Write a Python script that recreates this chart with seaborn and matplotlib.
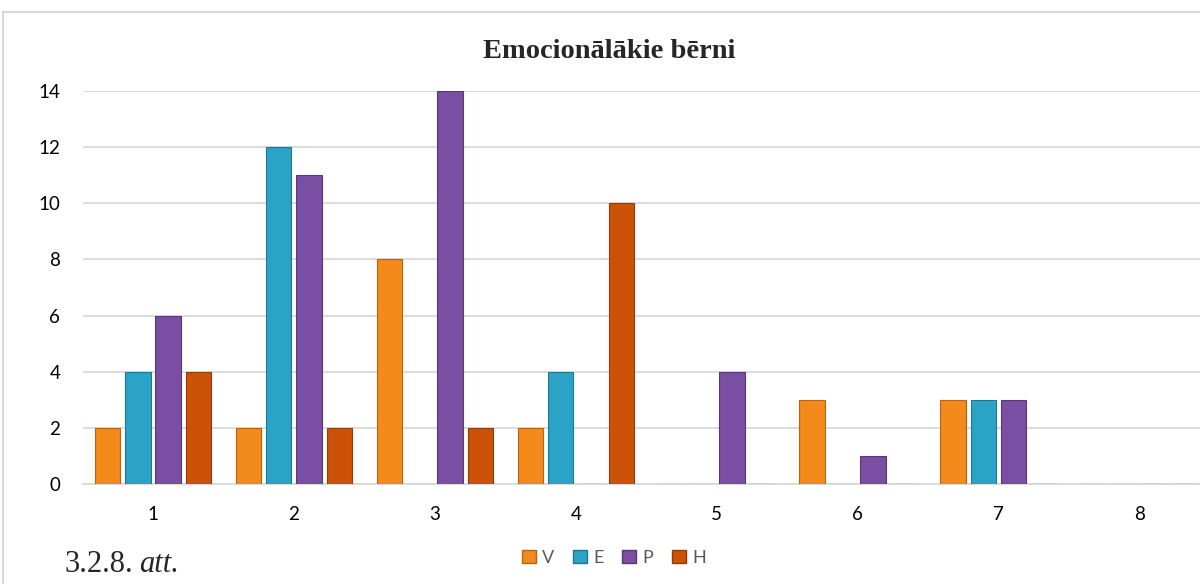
import matplotlib
matplotlib.use("Agg")
import matplotlib.pyplot as plt
import seaborn as sns
import pandas as pd
from matplotlib.patches import Rectangle, Patch

categories = ["1", "2", "3", "4", "5", "6", "7", "8"]
series = ["V", "E", "P", "H"]
V = [2, 2, 8, 2, 0, 3, 3, 0]
E = [4, 12, 0, 4, 0, 0, 3, 0]
P = [6, 11, 14, 0, 4, 1, 3, 0]
H = [4, 2, 2, 10, 0, 0, 0, 0]
colors = ["#F28A1C", "#2AA3C6", "#7A4EA2", "#CC5208"]
edge_colors = ["#B8650F", "#1C7A95", "#573776", "#943B05"]
title = "Emocionālākie bērni"
yticks = [0, 2, 4, 6, 8, 10, 12, 14]

rows = []
for s, vals in zip(series, [V, E, P, H]):
    for c, v in zip(categories, vals):
        rows.append({"cat": c, "series": s, "val": v})
df = pd.DataFrame(rows)

sns.set_theme(style="white")
plt.rcParams["font.family"] = ["Lato", "DejaVu Sans"]

fig = plt.figure(figsize=(12, 5.84), dpi=100)
fig.patch.set_facecolor("white")
# outer border
fig.add_artist(Rectangle((3 / 1200, -0.05), 1.2, 1 - 12 / 584 + 0.05,
                         transform=fig.transFigure, fill=False,
                         edgecolor="#D9D9D9", linewidth=1.5))

ax = fig.add_axes([82.5 / 1200, 1 - 484 / 584, (1210 - 82.5) / 1200, (484 - 91) / 584])
sns.barplot(data=df, x="cat", y="val", hue="series", hue_order=series,
            order=categories, palette=colors, saturation=1, width=0.86, gap=0.16,
            ax=ax, legend=False, zorder=3)

for i, cont in enumerate(ax.containers):
    for bar in cont:
        bar.set_edgecolor(edge_colors[i])
        bar.set_linewidth(0.8)

ax.set_ylim(0, 14)
ax.set_yticks(yticks)
ax.set_yticklabels([str(t) for t in yticks], fontsize=13.5, color="#000000")
ax.tick_params(axis="y", length=0, pad=16)
ax.tick_params(axis="x", length=0, pad=16, labelsize=13.5, labelcolor="#000000")
ax.set_xlabel("")
ax.set_ylabel("")
ax.yaxis.grid(True, color="#D9D9D9", linewidth=1.3, zorder=0)
ax.set_axisbelow(True)
for sp in ["top", "right", "left"]:
    ax.spines[sp].set_visible(False)
ax.spines["bottom"].set_color("#D9D9D9")
ax.spines["bottom"].set_linewidth(1.3)

fig.text(609 / 1200, 1 - 51 / 584, title, ha="center", va="center",
         fontsize=20.5, fontweight="bold", family=["Liberation Serif"])

# legend
handles = [Patch(facecolor=c, edgecolor=e) for c, e in zip(colors, edge_colors)]
fig.legend(handles, series, loc="center", bbox_to_anchor=(614 / 1200, 1 - 558 / 584),
           ncol=4, frameon=False, fontsize=13, handlelength=0.75, handleheight=0.75,
           handletextpad=0.35, columnspacing=1.05, labelcolor="#595959")

t1 = fig.text(64 / 1200, 1 - 564 / 584, "3.2.8.", ha="left", va="center",
              fontsize=22, family=["Liberation Serif"])
fig.canvas.draw()
bb = t1.get_window_extent(renderer=fig.canvas.get_renderer())
fig.text((bb.x1 + 6) / 1200, 1 - 564 / 584, "att.", ha="left", va="center",
         fontsize=22, style="italic", family=["Liberation Serif"])

fig.savefig("out.png", dpi=100, facecolor="white")
